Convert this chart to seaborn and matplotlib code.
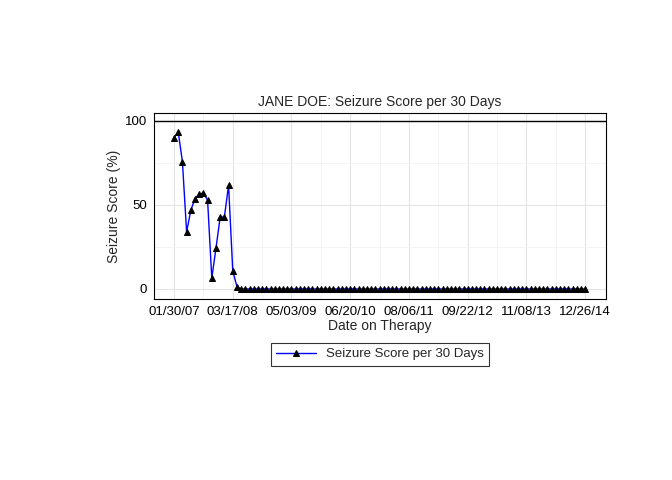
import matplotlib
matplotlib.use("Agg")
import matplotlib.pyplot as plt
import seaborn as sns
import pandas as pd

# seizure score per 30-day window
early_scores = [90, 93.4, 75.7, 33.9, 46.8, 53.8, 56.2, 57.2, 52.8, 6.4,
                24.3, 42.8, 42.8, 61.6, 10.8, 1.4]
n_points = 99
scores = early_scores + [0] * (n_points - len(early_scores))
tick_labels = ["01/30/07", "03/17/08", "05/03/09", "06/20/10",
               "08/06/11", "09/22/12", "11/08/13", "12/26/14"]

df = pd.DataFrame({"idx": range(n_points), "score": scores})

sns.set_style("white")
plt.rcParams['font.family'] = ['Liberation Sans', 'DejaVu Sans']

fig = plt.figure(figsize=(6.72, 4.8), dpi=100)
ax = fig.add_axes([0.229, 0.377, 0.673, 0.388])

sns.lineplot(data=df, x="idx", y="score", ax=ax, color="blue", lw=1,
             marker="^", markersize=5, markerfacecolor="black",
             markeredgecolor="black", label="Seizure Score per 30 Days")
ax.axhline(100, color="black", lw=1)

ax.set_xlim(-4.8, 103)
ax.set_ylim(-6, 104.8)
ax.set_xticks(range(0, 99, 14))
ax.set_xticklabels(tick_labels)
ax.set_xticks(range(7, 99, 14), minor=True)
ax.set_yticks([0, 50, 100])
ax.set_yticks([25, 75], minor=True)
ax.grid(True, which="major", color="#e5e5e5", lw=0.8)
ax.grid(True, which="minor", color="#f2f2f2", lw=0.6)
ax.set_axisbelow(True)
for s in ax.spines.values():
    s.set_color("black")
    s.set_linewidth(0.8)
ax.tick_params(axis="both", which="major", length=3, color="#333333",
               labelsize=9.5, labelcolor="black", pad=2)
ax.tick_params(which="minor", length=0)

ax.set_title("JANE DOE: Seizure Score per 30 Days", fontsize=10, pad=5)
ax.set_xlabel("Date on Therapy", fontsize=10, labelpad=1)
ax.set_ylabel("Seizure Score (%)", fontsize=10, labelpad=3)

leg = ax.legend(loc="upper center", bbox_to_anchor=(0.5, -0.2), frameon=True,
                fancybox=False, edgecolor="black", fontsize=9.5,
                handlelength=3)
leg.get_frame().set_linewidth(0.8)

fig.savefig("out.png", dpi=100)
